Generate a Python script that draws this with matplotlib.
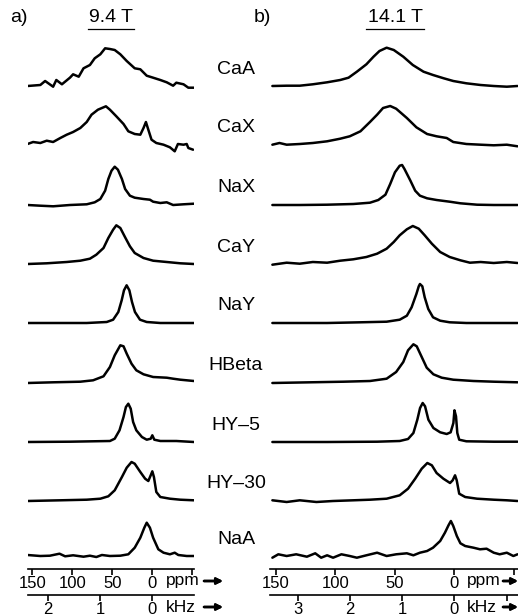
import matplotlib
matplotlib.use("Agg")
import matplotlib.pyplot as plt
from matplotlib.lines import Line2D

plt.rcParams['font.family'] = ['Liberation Sans', 'DejaVu Sans']

W, H = 518, 616

# sample names, top to bottom
labels = ["CaA", "CaX", "NaX", "CaY", "NaY", "HBeta", "HY\u20135", "HY\u201330", "NaA"]

# ---------------- 9.4 T spectra (ppm, intensity) ----------------
caa_a_ppm = [156, 140, 134, 124, 120, 113, 103, 99, 92, 86, 78, 72, 65, 59, 53, 47, 40, 32, 22, 15, 7, -1, -10, -18, -26, -30, -39, -45, -52]
caa_a_int = [0, 1, 5, -0.7, 6, 1.7, 8.3, 11.7, 9.3, 17.7, 21, 27.7, 31.7, 37.7, 37, 36, 31.7, 25, 17.7, 16.7, 10.3, 8.3, 6, 3.7, 0.3, 3.3, 1.7, -1.7, -1.7]

cax_a_ppm = [156, 149, 140, 132, 124, 115, 107, 99, 90, 82, 76, 68, 58, 53, 45, 36, 30, 22, 15, 11, 8, 5, 1, -5, -14, -22, -28, -32, -39, -43, -45, -51]
cax_a_int = [0, 2, 1, 3.3, 2, 6, 9.3, 12, 16, 22, 29.3, 34.3, 37.7, 34.3, 27.7, 20, 12.7, 10, 9.3, 16, 22, 14.3, 4.3, 1, -0.7, -3.3, -7.3, 0, -0.7, 0, -4, -5.7]

nax_a_ppm = [156, 140, 124, 103, 82, 72, 65, 59, 55, 51, 47, 43, 38, 34, 28, 22, 11, 3, -1, -10, -18, -26, -39, -52]
nax_a_int = [0, -0.7, -1.3, 0, 0.7, 2.7, 6, 14.3, 26, 34.3, 38.3, 35.3, 26, 16, 9.3, 7.3, 6, 5.3, 3.3, 2, 2.7, 0, 0.7, 1.3]

cay_a_ppm = [156, 132, 107, 90, 78, 70, 61, 55, 49, 45, 40, 34, 28, 22, 11, -1, -18, -35, -52]
cay_a_int = [0, 0.7, 2, 3.3, 5.3, 9.3, 16, 26, 34.3, 38.7, 36, 26.7, 17.7, 11, 6, 3.3, 2, 0.7, 0]

nay_a_ppm = [156, 124, 82, 57, 49, 42.5, 38.3, 35.4, 32.1, 28.7, 25.4, 21.7, 15.4, 7, -10, -35, -52]
nay_a_int = [0, 0, 0, 1, 3.3, 11, 22.7, 32.7, 37.7, 32.7, 21, 11, 3.3, 1, 0, 0, 0]

hbeta_a_ppm = [156, 124, 90, 74, 61, 53, 47, 40, 36, 32, 26, 20, 11, -1, -18, -26, -35, -52]
hbeta_a_int = [0, 0.7, 1.3, 2.7, 6.7, 16, 27.7, 37.7, 36.7, 29.3, 19.3, 12.7, 8.7, 6, 5.3, 4.3, 3.3, 2]

hy5_a_ppm = [156, 103, 53, 47, 41, 36, 33, 30, 27, 24, 20, 13, 7, 2, 0, -2.5, -10, -30, -52]
hy5_a_int = [0, 0.3, 1, 3.3, 11.7, 25, 35, 38.3, 33.3, 20, 11.7, 5, 2.3, 3.3, 6.7, 2.3, 1, 1, 0]

hy30_a_ppm = [156, 115, 82, 65, 55, 47, 38, 32, 26, 22, 15, 9, 5, 2, 0, -2, -5, -10, -22, -35, -52]
hy30_a_int = [0, 0.7, 1.3, 2.3, 4.7, 10.7, 24, 33.3, 39, 37.3, 29, 22.3, 20, 25.7, 29.7, 24, 9, 4, 2.3, 1.3, 0.7]

naa_a_ppm = [156, 140, 128, 116, 109, 99, 86, 78, 70, 63, 53, 40, 30, 22, 15, 10, 7, 3, -1, -7.5, -14, -22, -28, -32.5, -43, -52]
naa_a_int = [1, 0, 0.3, 2.3, -0.3, 0.7, -0.7, 0.3, -1, 1, 0, 0.3, 1.7, 8.3, 18.3, 28.3, 33.3, 28.3, 18.3, 6.7, 3.3, 1.7, 3.3, 1, 0, 0]

# ---------------- 14.1 T spectra (ppm, intensity) ----------------
caa_b_ppm = [153, 141, 130, 119, 107, 96, 89, 82, 74, 68, 63, 57, 51, 43, 35, 26, 18, 9, 1, -10, -22, -33, -44, -53]
caa_b_int = [0, 0.3, 0.3, 1.7, 3.7, 6, 8.3, 14.3, 21.7, 29.3, 35, 38.3, 36, 29.3, 21, 14.3, 11, 7.7, 5, 2.7, 1, 0, -0.7, 0]

cax_b_ppm = [153, 147, 141, 130, 119, 107, 96, 88, 79, 71, 65, 60, 54, 49, 40, 32, 23, 15, 6.5, 1, -10, -22, -33, -44, -53]
cax_b_int = [-0.7, 1, -0.7, 0, 1, 2.7, 5.3, 7.7, 12.7, 22, 29.3, 36, 38, 35.3, 26, 16.7, 10, 7.7, 6, 2, 0, -0.7, -1.3, -0.7, -2.3]

nax_b_ppm = [153, 130, 107, 85, 71, 64, 58, 54, 50, 46, 44, 42, 37, 33, 29, 23, 15, 4, -5, -19, -33, -53]
nax_b_int = [0, 0, 0.3, 1, 2.3, 5, 10.3, 21, 32.7, 39.3, 40, 36, 24.3, 14.3, 9.3, 6.7, 5, 3.3, 1.7, 0.3, 0, 0]

cay_b_ppm = [153, 141, 130, 119, 107, 96, 85, 74, 65, 57, 51, 46, 40, 35, 30, 25, 19, 12, 4, -5, -13, -22, -33, -44, -53]
cay_b_int = [-0.7, 1.3, 0.3, 2, 1.3, 3.3, 4.7, 7, 10.3, 15.3, 22, 28.7, 34.7, 38, 35.3, 28.7, 20.3, 12, 7, 3.7, 1.3, 2, 1, 2, 1]

nay_b_ppm = [153, 107, 79, 57, 46, 40, 36, 32, 30, 29, 27, 25, 22, 18, 12, 4, -10, -53]
nay_b_int = [0, 0, 0.7, 1.3, 3.3, 7.3, 15.7, 29, 36.7, 39, 36.7, 25.7, 14, 5.7, 2.3, 0.7, 0, 0]

hbeta_b_ppm = [153, 121, 93, 71, 57, 49, 43, 39, 34.5, 31.7, 27.5, 23.3, 17.7, 10.7, 1, -16, -33, -53]
hbeta_b_int = [0, 0.7, 1.3, 2, 4.3, 11, 21, 32.7, 38.7, 36.7, 26, 15.3, 8.7, 5.3, 3.3, 2, 1.3, 0.7]

hy5_b_ppm = [153, 107, 65, 46, 39, 34.5, 31.2, 28.9, 26.7, 24.7, 21.9, 17.7, 12, 6.5, 3.2, 0.9, 0, -1.3, -2.4, -4, -10, -33, -53]
hy5_b_int = [0, 0, 0.3, 1, 3, 9, 22.3, 34, 39, 35.7, 22.3, 14, 9.7, 8, 9.7, 19, 31.7, 25.7, 9, 2.3, 0.7, 0.3, 0.3]

hy30_b_ppm = [153, 141, 130, 116, 102, 85, 71, 57, 46, 39, 33, 27.5, 22.8, 19, 15, 9.3, 3.7, 1.5, -0.5, -1.9, -4, -9, -19, -33, -44, -53]
hy30_b_int = [0.7, -1, 0.7, -1, 0, 0.7, 1.3, 2.3, 5.7, 12.3, 22.3, 32.3, 38, 35.7, 28, 22.3, 18, 20.7, 25.7, 20.7, 7.3, 4, 2.3, 1.3, 0.7, 0]

naa_b_ppm = [153, 148, 141, 133, 124, 117, 112, 107, 102, 95, 88, 82, 74, 65, 57, 49, 40, 34.5, 29, 23, 18, 12, 8, 5, 3, 1, -2, -5, -9, -16, -21.5, -27, -33, -38, -44, -49.5, -53]
naa_b_int = [-1.7, 1.7, 0, 1.7, -0.7, 2.7, -1.7, 0.7, -1.7, 1.7, 0, -1.7, 0.7, 3.3, 0, 1.7, 2.7, 0.7, 3.3, 5, 8.3, 15, 23.3, 30.7, 35, 30, 20, 12.7, 10, 8.3, 6.7, 7.3, 3.3, 1.7, 3.3, 0, 1.7]

# axis scales
ppm_ticks = [150, 100, 50, 0, -50]
ppm_ticklabels = ["150", "100", "50", "0", ""]
khz_ticks_a = [2, 1, 0]
khz_ticklabels_a = ["2", "1", "0"]
khz_ticks_b = [3, 2, 1, 0, -1]
khz_ticklabels_b = ["3", "2", "1", "0", ""]
ppm_per_khz_a = 65.4   # 9.4 T
ppm_per_khz_b = 43.9   # 14.1 T

spectra_a = [(caa_a_ppm, caa_a_int), (cax_a_ppm, cax_a_int), (nax_a_ppm, nax_a_int),
             (cay_a_ppm, cay_a_int), (nay_a_ppm, nay_a_int), (hbeta_a_ppm, hbeta_a_int),
             (hy5_a_ppm, hy5_a_int), (hy30_a_ppm, hy30_a_int), (naa_a_ppm, naa_a_int)]
spectra_b = [(caa_b_ppm, caa_b_int), (cax_b_ppm, cax_b_int), (nax_b_ppm, nax_b_int),
             (cay_b_ppm, cay_b_int), (nay_b_ppm, nay_b_int), (hbeta_b_ppm, hbeta_b_int),
             (hy5_b_ppm, hy5_b_int), (hy30_b_ppm, hy30_b_int), (naa_b_ppm, naa_b_int)]

# layout (figure pixels from top)
baselines = [86, 144, 205, 264, 323, 383, 442, 501, 556]
label_y = [69, 127, 188, 247, 306, 366, 425, 484, 539]
axis_y = 569.3
khz_y = 595
top_y = 30

fig = plt.figure(figsize=(W / 100, H / 100), dpi=100)


def fx(px):
    return px / W


def fy(py):
    return 1 - py / H


def make_panel(x0, x1, xlim, spectra, khz_ticks, khz_labels, ppm_per_khz):
    ax = fig.add_axes([fx(x0), fy(axis_y), fx(x1 - x0), (axis_y - top_y) / H])
    for (p, v), b in zip(spectra, baselines):
        off = axis_y - b
        ax.plot(p, [off + s for s in v], color="black", lw=1.8,
                solid_joinstyle="round", solid_capstyle="round")
    ax.set_xlim(*xlim)
    ax.set_ylim(0, axis_y - top_y)
    for s in ["top", "left", "right"]:
        ax.spines[s].set_visible(False)
    ax.spines["bottom"].set_linewidth(1.2)
    ax.set_yticks([])
    ax.set_xticks(ppm_ticks)
    ax.set_xticklabels(ppm_ticklabels)
    ax.tick_params(axis="x", direction="out", length=4, width=1.2, labelsize=12, pad=1)
    ax.patch.set_visible(False)

    # kHz scale
    ak = fig.add_axes([fx(x0), fy(khz_y), fx(x1 - x0), 0.0001])
    ak.set_xlim(xlim[0] / ppm_per_khz, xlim[1] / ppm_per_khz)
    for s in ["top", "left", "right"]:
        ak.spines[s].set_visible(False)
    ak.spines["bottom"].set_linewidth(1.2)
    ak.set_yticks([])
    ak.set_xticks(khz_ticks)
    ak.set_xticklabels(khz_labels)
    ak.tick_params(axis="x", direction="out", length=4, width=1.2, labelsize=12, pad=1)
    ak.patch.set_visible(False)
    return ax


make_panel(28, 194, (155.4, -52.1), spectra_a, khz_ticks_a, khz_ticklabels_a, ppm_per_khz_a)
make_panel(270, 518, (155.0, -53.4), spectra_b, khz_ticks_b, khz_ticklabels_b, ppm_per_khz_b)

# sample labels in the middle
for name, y in zip(labels, label_y):
    fig.text(fx(236), fy(y), name, ha="center", va="center", fontsize=14)

# panel titles
fig.text(fx(10), fy(18), "a)", ha="left", va="center", fontsize=14)
fig.text(fx(111), fy(18), "9.4 T", ha="center", va="center", fontsize=14)
fig.text(fx(254), fy(18), "b)", ha="left", va="center", fontsize=14)
fig.text(fx(395), fy(18), "14.1 T", ha="center", va="center", fontsize=14)
fig.add_artist(Line2D([fx(88), fx(134)], [fy(29), fy(29)], color="black", lw=0.9, transform=fig.transFigure))
fig.add_artist(Line2D([fx(366), fx(424)], [fy(29), fy(29)], color="black", lw=0.9, transform=fig.transFigure))

# unit labels with arrows
for x_txt, x_a0, x_a1 in [(166, 204, 223), (467, 503, 518)]:
    for unit, yy in [("ppm", 581), ("kHz", 607)]:
        fig.text(fx(x_txt), fy(yy), unit, ha="left", va="center", fontsize=12.5)
        fig.add_artist(plt.annotate("", xy=(x_a1, H - yy), xytext=(x_a0, H - yy),
                                    xycoords="figure pixels", textcoords="figure pixels",
                                    arrowprops=dict(arrowstyle="-|>", lw=1.8, color="black",
                                                    mutation_scale=9, shrinkA=0, shrinkB=0)))

fig.savefig("out.png", dpi=100)
